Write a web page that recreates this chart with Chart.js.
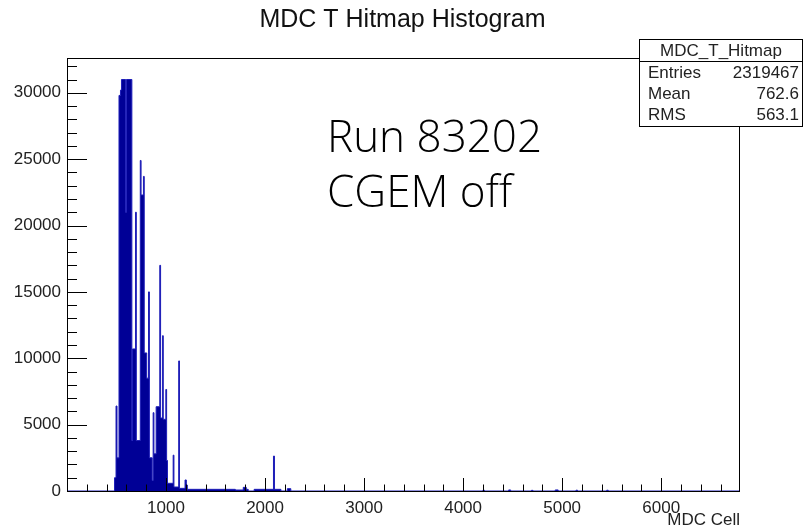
<!DOCTYPE html>
<html>
<head>
<meta charset="utf-8">
<script src="https://cdn.jsdelivr.net/npm/chart.js@4.4.1/dist/chart.umd.min.js"></script>
<style>
	html, body { margin: 0; padding: 0; background: #fff; }
</style>
</head>
<body>
<canvas id="myChart" width="805" height="531"></canvas>
<script>
// histogram: each count holds from its edge up to the next edge (MDC cell)
var binEdges = [0, 480, 495, 505, 525, 540, 550, 592, 600, 655,
	662, 692, 700, 740, 748, 772, 780, 805, 823, 832,
	860, 870, 878, 900, 937, 945, 965, 972, 998, 1006,
	1015, 1072, 1080, 1128, 1136, 1192, 1205, 1215, 1700, 1780,
	1810, 1830, 1890, 2085, 2095, 2160, 2225, 2260, 4200, 4215,
	4460, 4480, 4690, 4705, 4930, 4960, 5140, 5155, 5450, 5465,
	6796];
var binCounts = [0, 1000, 6400, 2500, 29800, 30200, 31000, 21000, 31000, 3800,
	10700, 21000, 3800, 24900, 22300, 23700, 10400, 8500, 15000, 2500,
	800, 5900, 2800, 6350, 17000, 5500, 11700, 5400, 7650, 2300,
	580, 2700, 300, 9800, 200, 830, 450, 125, 75, 275,
	125, 0, 125, 2630, 125, 0, 175, 0, 60, 0,
	80, 0, 50, 0, 80, 0, 60, 0, 60, 0,
	0];
var xTicks = [1000, 2000, 3000, 4000, 5000, 6000];
var yTicks = [0, 5000, 10000, 15000, 20000, 25000, 30000];
var statNames = ['Entries', 'Mean', 'RMS'];
var statValues = ['2319467', '762.6', '563.1'];

var labelFont = { family: "'Liberation Sans', Arial, sans-serif", size: 17 };
var plainNumber = function (v) { return String(v); };

// ROOT style frame with ticks pointing inwards, title, stats box and the note
var rootFrame = {
	id: 'rootFrame',
	afterDatasetsDraw: function (chart) {
		var ctx = chart.ctx, a = chart.chartArea;
		var xs = chart.scales.x, ys = chart.scales.y;
		ctx.save();
		ctx.strokeStyle = '#000';
		ctx.lineWidth = 1;
		ctx.strokeRect(a.left + 0.5, a.top + 0.5, a.right - a.left - 1, a.bottom - a.top);
		ctx.beginPath();
		for (var v = 0; v <= xs.max; v += 200) {
			var px = Math.round(xs.getPixelForValue(v)) + 0.5;
			var len = v % 1000 === 0 ? 13 : 6.5;
			ctx.moveTo(px, a.bottom);
			ctx.lineTo(px, a.bottom - len);
		}
		for (v = 0; v <= ys.max; v += 1000) {
			var py = Math.round(ys.getPixelForValue(v)) + 0.5;
			var ylen = v % 5000 === 0 ? 20 : 10;
			ctx.moveTo(a.left, py);
			ctx.lineTo(a.left + ylen, py);
		}
		ctx.stroke();
		ctx.restore();
	},
	afterDraw: function (chart) {
		var ctx = chart.ctx;
		ctx.save();
		// title, centred on the whole canvas
		ctx.fillStyle = '#111';
		ctx.font = "25px 'Liberation Sans', Arial, sans-serif";
		ctx.textAlign = 'center';
		ctx.textBaseline = 'middle';
		ctx.fillText('MDC T Hitmap Histogram', chart.width / 2, 20);
		// stats box
		ctx.fillStyle = '#fff';
		ctx.fillRect(639, 39, 164, 88);
		ctx.strokeStyle = '#000';
		ctx.lineWidth = 1;
		ctx.strokeRect(639.5, 39.5, 163, 87);
		ctx.beginPath();
		ctx.moveTo(639, 61.5);
		ctx.lineTo(803, 61.5);
		ctx.stroke();
		ctx.fillStyle = '#222';
		ctx.font = "17px 'Liberation Sans', Arial, sans-serif";
		ctx.fillText(chart.data.datasets[0].label, 721, 51);
		for (var i = 0; i < statNames.length; i++) {
			ctx.textAlign = 'left';
			ctx.fillText(statNames[i], 648, 73 + i * 21);
			ctx.textAlign = 'right';
			ctx.fillText(statValues[i], 799, 73 + i * 21);
		}
		// note
		ctx.fillStyle = '#000';
		ctx.textAlign = 'left';
		ctx.textBaseline = 'alphabetic';
		ctx.font = "300 44px 'Open Sans', 'Noto Sans', sans-serif";
		ctx.fillText('Run 83202', 327, 152);
		ctx.fillText('CGEM off', 327, 207);
		ctx.restore();
	}
};

var points = binEdges.map(function (e, i) { return { x: e, y: binCounts[i] }; });

var ctx = document.getElementById('myChart');
var myChart = new Chart(ctx, {
	type: 'line',
	data: {
		datasets: [{
			label: 'MDC_T_Hitmap',
			data: points,
			stepped: true,
			fill: 'origin',
			backgroundColor: 'rgb(0, 0, 150)',
			borderColor: 'rgb(30, 30, 185)',
			borderWidth: 1,
			pointRadius: 0
		}]
	},
	options: {
		responsive: false,
		animation: false,
		devicePixelRatio: 1,
		layout: {
			padding: { left: 0, right: 65, top: 58, bottom: 0 }
		},
		plugins: {
			legend: { display: false },
			tooltip: { enabled: false },
			title: { display: false }
		},
		scales: {
			x: {
				type: 'linear',
				min: 0,
				max: 6796,
				grid: { display: false, drawTicks: false },
				border: { display: false },
				afterBuildTicks: function (s) {
					s.ticks = xTicks.map(function (v) { return { value: v }; });
				},
				afterFit: function (s) { s.height = 40; },
				ticks: { color: '#222', font: labelFont, padding: 7, maxRotation: 0, autoSkip: false, callback: plainNumber },
				title: {
					display: true,
					text: 'MDC Cell',
					align: 'end',
					color: '#222',
					font: labelFont,
					padding: { top: 0, bottom: 0 }
				}
			},
			y: {
				min: 0,
				max: 32620,
				grid: { display: false, drawTicks: false },
				border: { display: false },
				afterBuildTicks: function (s) {
					s.ticks = yTicks.map(function (v) { return { value: v }; });
				},
				afterFit: function (s) { s.width = 67; },
				ticks: { color: '#222', font: labelFont, padding: 6, callback: plainNumber }
			}
		}
	},
	plugins: [rootFrame]
});
</script>
</body>
</html>
